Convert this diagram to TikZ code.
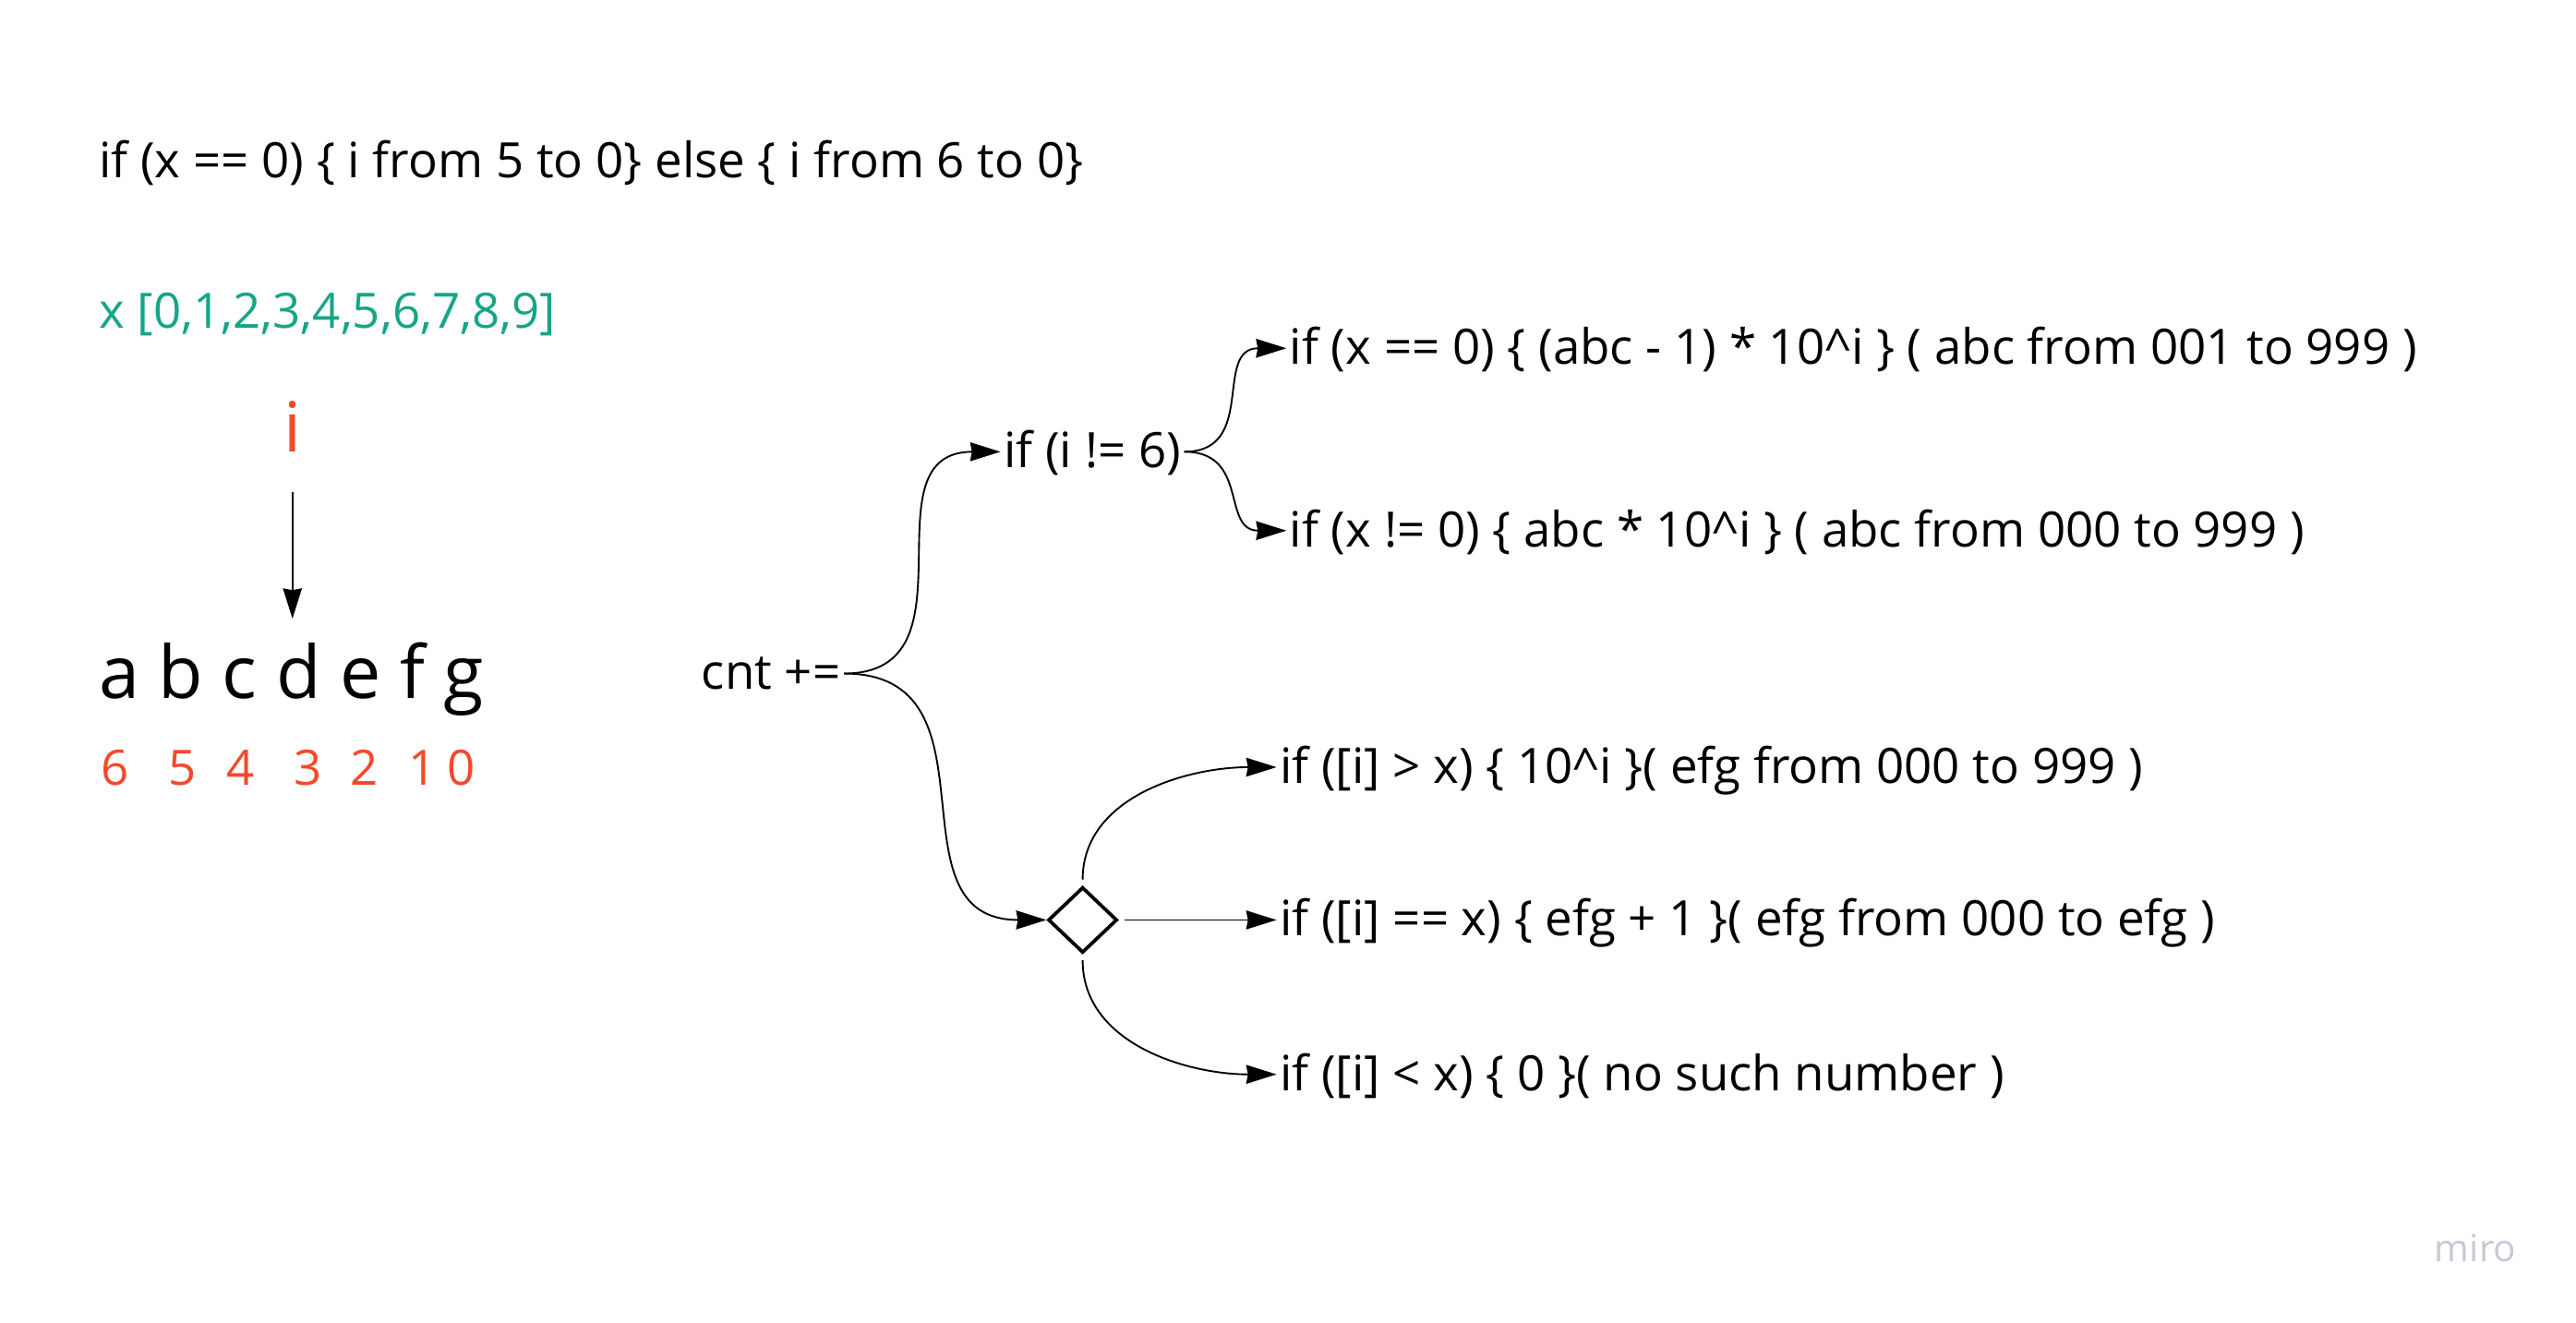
\documentclass[tikz,border=0pt]{standalone}
\usepackage{fontspec}
\setmainfont{Open Sans}
\usetikzlibrary{arrows.meta,shapes.geometric}
\definecolor{miroRed}{HTML}{F24A2A}
\definecolor{miroGreen}{HTML}{17A589}
\definecolor{miroGray}{RGB}{200,200,214}

\begin{document}
\begin{tikzpicture}[x=0.02cm,y=-0.02cm,
	txt/.style={font=\fontsize{16.9}{20}\selectfont, anchor=west, inner xsep=1pt, inner ysep=0pt, text height=14.5pt, text depth=3.4pt},
	big/.style={font=\fontsize{25.3}{30}\selectfont, inner sep=0pt},
	arr/.style={-{Stealth[length=10.5pt,width=6.5pt,inset=0.6pt]}, line width=0.6pt},
	branch/.style={arr, out=0, in=180, looseness=1.3}]
	\useasboundingbox (0,0) rectangle (1568,805);
	% left side: digits of the number
	\node[txt, anchor=base west, inner xsep=0pt] (range) at (60,108) {if (x == 0) \{ i from 5 to 0\} else \{ i from 6 to 0\}};
	\node[txt, anchor=base west, inner xsep=0pt, text=miroGreen] (xset) at (60,200) {x [0,1,2,3,4,5,6,7,8,9]};
	\node[font=\fontsize{24}{28}\selectfont, inner sep=0pt, anchor=base, text=miroRed] (idx) at (178,275) {i};
	\node[big, anchor=base west] (word) at (60,425) {a b c d e f g};
	\node[txt, anchor=base west, inner xsep=0pt, text=miroRed] (weight) at (61,478) {6\hspace{0.48cm}5\hspace{0.37cm}4\hspace{0.48cm}3\hspace{0.35cm}2\hspace{0.37cm}1\hspace{0.13cm}0};
	\draw[arr, shorten <=0.48cm, shorten >=0.28cm] (idx.south) -- (idx.south |- word.north);
	% right side: the cases
	\node[txt] (cnt) at (425,410) {cnt +=};
	\node[txt] (notsix) at (609,275) {if (i != 6)};
	\node[txt] (zeroA) at (783,212) {if (x == 0) \{ (abc - 1) * 10\textasciicircum i \} ( abc from 001 to 999 )};
	\node[txt] (zeroB) at (783,323) {if (x != 0) \{ abc * 10\textasciicircum i \} ( abc from 000 to 999 )};
	\node[draw, diamond, line width=1.2pt, minimum width=0.84cm, minimum height=0.8cm, inner sep=0pt] (cmp) at (659,560) {};
	\node[txt] (gt) at (777,467) {if ([i] > x) \{ 10\textasciicircum i \}( efg from 000 to 999 )};
	\node[txt] (eq) at (777,560) {if ([i] == x) \{ efg + 1 \}( efg from 000 to efg )};
	\node[txt] (lt) at (777,654) {if ([i] < x) \{ 0 \}( no such number )};
	\node[font=\fontsize{13}{15}\selectfont, text=miroGray, anchor=base east, inner sep=0pt] (miro) at (1532,768) {miro};
	\draw[branch] (cnt.east) to (notsix.west);
	\draw[branch] (cnt.east) to (cmp.west);
	\draw[branch] (notsix.east) to (zeroA.west);
	\draw[branch] (notsix.east) to (zeroB.west);
	\draw[arr, shorten <=2pt] (cmp.north) to[out=90, in=180] (gt.west);
	\draw[arr, shorten <=2pt] (cmp.east) -- (eq.west);
	\draw[arr, shorten <=2pt] (cmp.south) to[out=-90, in=180] (lt.west);
\end{tikzpicture}
\end{document}
